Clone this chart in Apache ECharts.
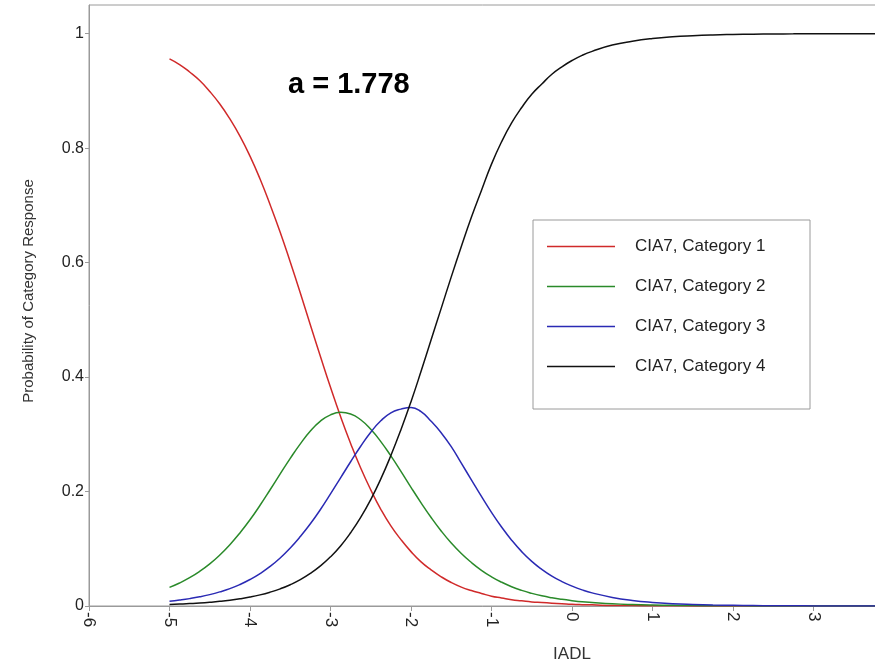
<!DOCTYPE html>
<html>
<head>
<meta charset="utf-8">
<script src="https://cdn.jsdelivr.net/npm/echarts@6/dist/echarts.min.js"></script>
<style>
  html, body { margin: 0; padding: 0; background: #fff; }
  #main { width: 875px; height: 666px; }
</style>
</head>
<body>
<div id="main"></div>
<script type="text/javascript">
    // IADL values (theta); finer steps where the curves bend
    var xs = [-5, -4.875, -4.75, -4.625, -4.5, -4.375, -4.25, -4.125, -4, -3.875, -3.75, -3.625, -3.5, -3.375,
              -3.25, -3.125, -3, -2.875, -2.75, -2.625, -2.5, -2.375, -2.25, -2.125, -2, -1.875, -1.75, -1.625,
              -1.5, -1.375, -1.25, -1.125, -1, -0.875, -0.75, -0.625, -0.5, -0.375, -0.25, -0.125, 0, 0.125,
              0.25, 0.5, 0.75, 1, 1.25, 1.5, 1.75, 2, 2.25, 2.5, 2.75, 3, 3.25, 3.5, 3.75, 4];

    var cat1 = [0.956, 0.946, 0.933, 0.918, 0.899, 0.877, 0.851, 0.821, 0.786, 0.746, 0.701, 0.653, 0.601, 0.547,
                0.491, 0.436, 0.382, 0.331, 0.284, 0.241, 0.203, 0.169, 0.140, 0.116, 0.095, 0.077, 0.063, 0.051,
                0.041, 0.033, 0.027, 0.022, 0.017, 0.014, 0.011, 0.009, 0.007, 0.006, 0.005, 0.004, 0.003, 0.0024,
                0.002, 0.001, 0.0008, 0.0005, 0.0003, 0.0002, 0.0001, 0, 0, 0, 0, 0, 0, 0, 0, 0];
    var cat2 = [0.0326, 0.0402, 0.0494, 0.0605, 0.0735, 0.0890, 0.1071, 0.1277, 0.1506, 0.1760, 0.2031, 0.2307, 0.2579, 0.2833,
                0.3058, 0.3230, 0.3340, 0.3383, 0.3355, 0.3254, 0.3087, 0.2872, 0.2622, 0.2352, 0.2073, 0.1803, 0.1546, 0.1311,
                0.1101, 0.0917, 0.0760, 0.0624, 0.0510, 0.0416, 0.0337, 0.0273, 0.0221, 0.0178, 0.0144, 0.0116, 0.0093, 0.0074,
                0.0061, 0.0039, 0.0025, 0.0016, 0.0011, 0.0007, 0.0004, 0.0003, 0.0002, 0.0001, 0, 0, 0, 0, 0, 0];
    var cat3 = [0.0083, 0.0104, 0.0129, 0.0160, 0.0199, 0.0247, 0.0304, 0.0376, 0.0463, 0.0567, 0.0691, 0.0839, 0.1013, 0.1213,
                0.1436, 0.1686, 0.1958, 0.2239, 0.2520, 0.2791, 0.3036, 0.3236, 0.3375, 0.3440, 0.3470, 0.3395, 0.3227, 0.3026,
                0.2784, 0.2495, 0.2205, 0.1915, 0.1636, 0.1380, 0.1150, 0.0950, 0.0780, 0.0640, 0.0522, 0.0427, 0.0348, 0.0282,
                0.0229, 0.0150, 0.0097, 0.0063, 0.0041, 0.0027, 0.0017, 0.0011, 0.0007, 0.0005, 0.0003, 0.0002, 0.0001, 0.0001, 0, 0];
    var cat4 = [0.0027, 0.0033, 0.0042, 0.0052, 0.0065, 0.0081, 0.0101, 0.0126, 0.0156, 0.0194, 0.0242, 0.0300, 0.0372, 0.0460,
                0.0569, 0.0700, 0.0859, 0.1050, 0.128, 0.1547, 0.186, 0.222, 0.263, 0.308, 0.357, 0.410, 0.465, 0.520,
                0.575, 0.628, 0.679, 0.726, 0.772, 0.811, 0.844, 0.871, 0.894, 0.912, 0.929, 0.942, 0.953, 0.962,
                0.969, 0.980, 0.9867, 0.9914, 0.9945, 0.9964, 0.9977, 0.9985, 0.9991, 0.9994, 0.9996, 0.9998, 0.9998, 0.9999, 0.9999, 1.0];

    var names = ['CIA7, Category 1', 'CIA7, Category 2', 'CIA7, Category 3', 'CIA7, Category 4'];
    var colors = ['#d02a2a', '#2a8a2a', '#2a2ab4', '#111111'];

    var font = '"Liberation Sans", Arial, sans-serif';

    function pairs(ys) {
        return xs.map(function (x, i) { return [x, ys[i]]; });
    }

    var seriesList = [cat1, cat2, cat3, cat4].map(function (ys, k) {
        return {
            name: names[k],
            type: 'line',
            data: pairs(ys),
            smooth: true,
            symbol: 'none',
            color: colors[k],
            lineStyle: { width: 1.5, color: colors[k] },
            z: 3
        };
    });

    var myChart = echarts.init(document.getElementById('main'));
    myChart.setOption({
        animation: false,
        grid: {
            left: 89,
            width: 966,   // plot runs past the right edge, as in the picture
            top: 5,
            height: 601,
            outerBoundsMode: 'none',
            containLabel: false,
            show: true,
            borderColor: '#9a9a9a',
            borderWidth: 1
        },
        legend: {
            data: names,
            orient: 'vertical',
            left: 547,
            top: 238,
            padding: 0,
            icon: 'rect',
            itemWidth: 68,
            itemHeight: 1.5,
            itemGap: 23,
            textStyle: { fontFamily: font, fontSize: 17, color: '#222', padding: [0, 0, 0, 15] }
        },
        graphic: [
            {
                type: 'rect',
                shape: { x: 533, y: 220, width: 277, height: 189 },
                style: { fill: 'none', stroke: '#9a9a9a', lineWidth: 1 },
                z: 1
            },
            {
                type: 'text',
                left: 288,
                top: 70,
                style: { text: 'a = 1.778', font: 'bold 29px ' + font, fill: '#000' }
            }
        ],
        xAxis: {
            type: 'value',
            min: -6,
            max: 6,
            interval: 1,
            name: 'IADL',
            nameLocation: 'middle',
            nameGap: 40,
            nameTextStyle: { fontFamily: font, fontSize: 17, color: '#333' },
            splitLine: { show: false },
            axisLine: { onZero: false, lineStyle: { color: '#9a9a9a' } },
            axisTick: { length: 5, lineStyle: { color: '#9a9a9a' } },
            axisLabel: { rotate: -90, margin: 6, fontFamily: font, fontSize: 17, color: '#222' }
        },
        yAxis: {
            type: 'value',
            min: 0,
            max: 1.05,
            interval: 0.2,
            name: 'Probability of Category Response',
            nameLocation: 'middle',
            nameGap: 53,
            nameTextStyle: { fontFamily: font, fontSize: 15, color: '#333', padding: [0, 0, 0, 29] },
            splitLine: { show: false },
            axisLine: { show: true, onZero: false, lineStyle: { color: '#9a9a9a' } },
            axisTick: { show: true, length: 4, lineStyle: { color: '#9a9a9a' } },
            axisLabel: {
                margin: 5,
                fontFamily: font,
                fontSize: 16,
                color: '#222',
                showMaxLabel: false,
                formatter: function (v) { return v > 1 ? '' : String(+v.toFixed(1)); }
            }
        },
        series: seriesList
    });
</script>
</body>
</html>
